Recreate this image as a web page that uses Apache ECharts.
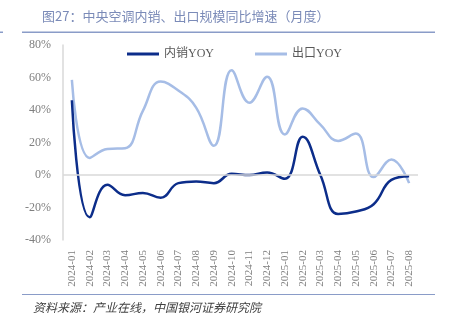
<!DOCTYPE html>
<html>
<head>
<meta charset="utf-8">
<script src="https://cdn.jsdelivr.net/npm/echarts@6/dist/echarts.min.js"></script>
<style>
html,body{margin:0;padding:0;background:#fff;}
#chart{width:452px;height:326px;}
</style>
</head>
<body>
<div id="chart"></div>
<script>
// Monthly categories
const months = ['2024-01','2024-02','2024-03','2024-04','2024-05','2024-06','2024-07','2024-08','2024-09','2024-10','2024-11','2024-12',
  '2025-01','2025-02','2025-03','2025-04','2025-05','2025-06','2025-07','2025-08'];
// Domestic sales YoY (%)
const domesticYoY = [46, -26, -6, -12.5, -11, -14, -5, -4, -5, 0.7, 0, 1.5, -2.3, 23.5, 0, -24, -22.5, -18, -3, -0.7];
// Export YoY (%)
const exportYoY = [58.5, 10.5, 16, 16.5, 39.5, 57.5, 52, 41.5, 18, 64.5, 44.5, 60.5, 25, 41, 31, 21, 25.5, -1.3, 9.5, -5];
// Y axis range
const yMin = -40, yMax = 80, yStep = 20;

const chart = echarts.init(document.getElementById('chart'), null, {renderer: 'canvas'});
const labelFont = '"Liberation Serif", "Noto Sans CJK SC", serif';
chart.setOption({
  animation: false,
  backgroundColor: '#fff',
  grid: {left: 63, right: 34, top: 45, bottom: 86},
  legend: {
    top: 43, left: 122,
    itemWidth: 32, itemHeight: 3, itemGap: 41,
    icon: 'rect',
    itemTextGap: 4,
    textStyle: {color: '#595959', fontSize: 12, fontFamily: labelFont},
    data: ['内销YOY', '出口YOY']
  },
  xAxis: {
    type: 'category',
    data: months,
    boundaryGap: true,
    axisLine: {show: false},
    axisTick: {show: false},
    axisLabel: {rotate: 90, interval: 0, color: '#7f7f7f', fontSize: 11, fontFamily: labelFont, margin: 10}
  },
  yAxis: {
    type: 'value',
    min: yMin, max: yMax, interval: yStep,
    axisLine: {show: true, lineStyle: {color: '#d9d9d9', width: 1.5}},
    axisTick: {show: false},
    splitLine: {show: false},
    axisLabel: {color: '#7f7f7f', fontSize: 12, fontFamily: labelFont, margin: 12,
      formatter: v => v + '%'}
  },
  series: [
    {
      name: '内销YOY', type: 'line', data: domesticYoY, smooth: 0.45,
      symbol: 'none', lineStyle: {color: '#0c2d8a', width: 2.5}, itemStyle: {color: '#0c2d8a'},
      z: 3,
      markLine: {
        silent: true, symbol: 'none', label: {show: false},
        lineStyle: {color: '#d9d9d9', width: 1.5, type: 'solid'},
        data: [{yAxis: 0}]
      }
    },
    {
      name: '出口YOY', type: 'line', data: exportYoY, smooth: 0.45,
      symbol: 'none', lineStyle: {color: '#a6bde6', width: 2.5}, itemStyle: {color: '#a6bde6'},
      z: 2
    }
  ],
  graphic: [
    {type: 'text', left: 42, top: 10,
      style: {text: '图27：中央空调内销、出口规模同比增速（月度）', fill: '#7b8bb8',
        font: '13px "Noto Sans CJK SC", sans-serif'}},
    {type: 'rect', shape: {x: 22, y: 31.5, width: 413, height: 1.5}, style: {fill: '#8a9cc8'}},
    {type: 'rect', shape: {x: 0, y: 31.5, width: 3, height: 1.5}, style: {fill: '#8a9cc8'}},
    {type: 'rect', shape: {x: 22, y: 294, width: 413, height: 1}, style: {fill: '#8a9cc8'}},
    {type: 'text', left: 33, top: 301,
      style: {text: '资料来源：产业在线，中国银河证券研究院', fill: '#404040',
        font: 'italic 12px "Noto Sans CJK SC", sans-serif'}}
  ]
});
</script>
</body>
</html>
